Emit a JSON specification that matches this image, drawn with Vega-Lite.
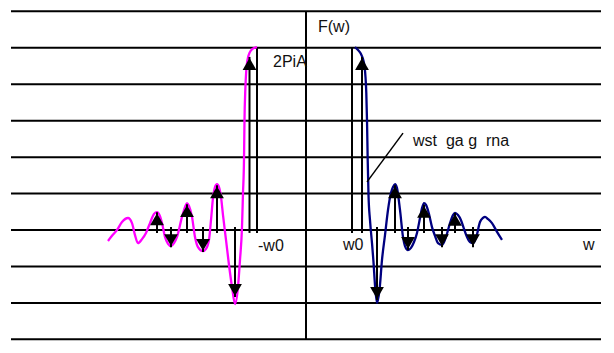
{
  "$schema": "https://vega.github.io/schema/vega-lite/v6.json",
  "width": 614,
  "height": 353,
  "autosize": {"type": "fit", "contains": "padding"},
  "padding": 0,
  "background": "white",
  "config": {"view": {"stroke": null}, "text": {"font": "Liberation Sans", "fontSize": 16, "color": "#111"}},
  "datasets": {
    "grid": [
      {"F": -3, "w": -29.5, "w2": 29.5}, {"F": -2, "w": -29.5, "w2": 29.5}, {"F": -1, "w": -29.5, "w2": 29.5},
      {"F": 0, "w": -29.5, "w2": 29.5}, {"F": 1, "w": -29.5, "w2": 29.5}, {"F": 2, "w": -29.5, "w2": 29.5},
      {"F": 3, "w": -29.5, "w2": 29.5}, {"F": 4, "w": -29.5, "w2": 29.5}, {"F": 5, "w": -29.5, "w2": 29.5},
      {"F": 6, "w": -29.5, "w2": 29.5}
    ],
    "vlines": [
      {"w": 0, "F": -3, "F2": 6},
      {"w": -4.9, "F": -0.08, "F2": 5.02},
      {"w": 4.6, "F": -0.08, "F2": 5.02}
    ],
    "curves": [
      {"side": "neg", "w": -19.8, "F": -0.30}, {"side": "neg", "w": -19.4, "F": -0.16}, {"side": "neg", "w": -18.9, "F": 0.00},
      {"side": "neg", "w": -18.4, "F": 0.22}, {"side": "neg", "w": -17.8, "F": 0.33}, {"side": "neg", "w": -17.4, "F": 0.19},
      {"side": "neg", "w": -17.1, "F": -0.14}, {"side": "neg", "w": -16.8, "F": -0.36}, {"side": "neg", "w": -16.4, "F": -0.25},
      {"side": "neg", "w": -16.0, "F": -0.08}, {"side": "neg", "w": -15.6, "F": 0.19}, {"side": "neg", "w": -15.2, "F": 0.44},
      {"side": "neg", "w": -14.9, "F": 0.49}, {"side": "neg", "w": -14.6, "F": 0.38}, {"side": "neg", "w": -14.4, "F": 0.19},
      {"side": "neg", "w": -14.1, "F": -0.19}, {"side": "neg", "w": -13.8, "F": -0.38}, {"side": "neg", "w": -13.5, "F": -0.44},
      {"side": "neg", "w": -13.2, "F": -0.36}, {"side": "neg", "w": -12.9, "F": -0.19}, {"side": "neg", "w": -12.4, "F": 0.36},
      {"side": "neg", "w": -12.1, "F": 0.63}, {"side": "neg", "w": -11.9, "F": 0.74}, {"side": "neg", "w": -11.7, "F": 0.66},
      {"side": "neg", "w": -11.4, "F": 0.36}, {"side": "neg", "w": -11.1, "F": -0.19}, {"side": "neg", "w": -10.8, "F": -0.47},
      {"side": "neg", "w": -10.3, "F": -0.58}, {"side": "neg", "w": -10.0, "F": -0.52}, {"side": "neg", "w": -9.7, "F": -0.27},
      {"side": "neg", "w": -9.5, "F": 0.27}, {"side": "neg", "w": -9.3, "F": 0.88}, {"side": "neg", "w": -9.1, "F": 1.18},
      {"side": "neg", "w": -8.9, "F": 1.26}, {"side": "neg", "w": -8.7, "F": 1.18}, {"side": "neg", "w": -8.5, "F": 0.91},
      {"side": "neg", "w": -8.3, "F": 0.41}, {"side": "neg", "w": -8.0, "F": -0.27}, {"side": "neg", "w": -7.7, "F": -0.96},
      {"side": "neg", "w": -7.4, "F": -1.56}, {"side": "neg", "w": -7.1, "F": -2.03}, {"side": "neg", "w": -6.8, "F": -1.56},
      {"side": "neg", "w": -6.6, "F": -0.82}, {"side": "neg", "w": -6.4, "F": 0.08}, {"side": "neg", "w": -6.3, "F": 1.02},
      {"side": "neg", "w": -6.2, "F": 1.92}, {"side": "neg", "w": -6.15, "F": 3.02}, {"side": "neg", "w": -6.07, "F": 3.84},
      {"side": "neg", "w": -5.97, "F": 4.39}, {"side": "neg", "w": -5.85, "F": 4.67}, {"side": "neg", "w": -5.65, "F": 4.86},
      {"side": "neg", "w": -5.35, "F": 4.97}, {"side": "neg", "w": -4.9, "F": 5.02},
      {"side": "pos", "w": 4.9, "F": 5.02}, {"side": "pos", "w": 5.2, "F": 4.94}, {"side": "pos", "w": 5.5, "F": 4.83},
      {"side": "pos", "w": 5.7, "F": 4.69}, {"side": "pos", "w": 5.85, "F": 4.50}, {"side": "pos", "w": 5.95, "F": 4.20},
      {"side": "pos", "w": 6.03, "F": 3.76}, {"side": "pos", "w": 6.1, "F": 3.02}, {"side": "pos", "w": 6.17, "F": 1.92},
      {"side": "pos", "w": 6.25, "F": 0.96}, {"side": "pos", "w": 6.4, "F": 0.27}, {"side": "pos", "w": 6.6, "F": -0.36},
      {"side": "pos", "w": 6.75, "F": -0.88}, {"side": "pos", "w": 6.9, "F": -1.51}, {"side": "pos", "w": 7.1, "F": -2.00},
      {"side": "pos", "w": 7.35, "F": -1.65}, {"side": "pos", "w": 7.6, "F": -0.82}, {"side": "pos", "w": 7.9, "F": -0.14},
      {"side": "pos", "w": 8.2, "F": 0.55}, {"side": "pos", "w": 8.5, "F": 1.02}, {"side": "pos", "w": 8.7, "F": 1.18},
      {"side": "pos", "w": 8.9, "F": 1.26}, {"side": "pos", "w": 9.1, "F": 1.15}, {"side": "pos", "w": 9.4, "F": 0.55},
      {"side": "pos", "w": 9.7, "F": -0.19}, {"side": "pos", "w": 9.9, "F": -0.44}, {"side": "pos", "w": 10.2, "F": -0.55},
      {"side": "pos", "w": 10.5, "F": -0.49}, {"side": "pos", "w": 10.8, "F": -0.33}, {"side": "pos", "w": 11.1, "F": -0.08},
      {"side": "pos", "w": 11.4, "F": 0.33}, {"side": "pos", "w": 11.6, "F": 0.60}, {"side": "pos", "w": 11.8, "F": 0.74},
      {"side": "pos", "w": 12.0, "F": 0.69}, {"side": "pos", "w": 12.3, "F": 0.44}, {"side": "pos", "w": 12.6, "F": 0.08},
      {"side": "pos", "w": 12.9, "F": -0.16}, {"side": "pos", "w": 13.2, "F": -0.36}, {"side": "pos", "w": 13.6, "F": -0.41},
      {"side": "pos", "w": 14.0, "F": -0.19}, {"side": "pos", "w": 14.4, "F": 0.19}, {"side": "pos", "w": 14.7, "F": 0.41},
      {"side": "pos", "w": 14.9, "F": 0.47}, {"side": "pos", "w": 15.2, "F": 0.41}, {"side": "pos", "w": 15.5, "F": 0.27},
      {"side": "pos", "w": 15.8, "F": 0.03}, {"side": "pos", "w": 16.1, "F": -0.19}, {"side": "pos", "w": 16.4, "F": -0.33},
      {"side": "pos", "w": 16.7, "F": -0.36}, {"side": "pos", "w": 17.0, "F": -0.22}, {"side": "pos", "w": 17.4, "F": 0.22},
      {"side": "pos", "w": 17.7, "F": 0.33}, {"side": "pos", "w": 17.9, "F": 0.36}, {"side": "pos", "w": 18.2, "F": 0.30},
      {"side": "pos", "w": 18.6, "F": 0.19}, {"side": "pos", "w": 19.1, "F": -0.05}, {"side": "pos", "w": 19.6, "F": -0.27}
    ],
    "arrows": [
      {"w": -14.9, "F": -0.08, "tip": 0.49, "dir": "up"},
      {"w": -11.9, "F": -0.08, "tip": 0.71, "dir": "up"},
      {"w": -8.9, "F": -0.08, "tip": 1.23, "dir": "up"},
      {"w": -5.65, "F": -0.08, "tip": 4.75, "dir": "up"},
      {"w": -13.5, "F": 0.08, "tip": -0.47, "dir": "down"},
      {"w": -10.3, "F": 0.08, "tip": -0.60, "dir": "down"},
      {"w": -7.1, "F": 0.08, "tip": -1.84, "dir": "down"},
      {"w": 5.6, "F": -0.08, "tip": 4.75, "dir": "up"},
      {"w": 8.9, "F": -0.08, "tip": 1.23, "dir": "up"},
      {"w": 11.8, "F": -0.08, "tip": 0.69, "dir": "up"},
      {"w": 14.9, "F": -0.08, "tip": 0.47, "dir": "up"},
      {"w": 7.1, "F": 0.08, "tip": -1.92, "dir": "down"},
      {"w": 10.2, "F": 0.08, "tip": -0.55, "dir": "down"},
      {"w": 13.6, "F": 0.08, "tip": -0.47, "dir": "down"},
      {"w": 16.7, "F": 0.08, "tip": -0.47, "dir": "down"}
    ],
    "pointer": [{"w": 6.1, "F": 1.32, "w2": 9.7, "F2": 2.66}],
    "labels": [
      {"w": 1.2, "F": 5.57, "label": "F(w)"},
      {"w": -3.3, "F": 4.61, "label": "2PiA"},
      {"w": -4.8, "F": -0.44, "label": "-w0"},
      {"w": 3.7, "F": -0.41, "label": "w0"},
      {"w": 27.7, "F": -0.41, "label": "w"},
      {"w": 10.7, "F": 2.44, "label": "wst\u00a0 ga g\u00a0 rna"}
    ]
  },
  "encoding": {
    "x": {"field": "w", "type": "quantitative", "scale": {"domain": [-30.6, 30.8], "nice": false, "zero": false}, "axis": null},
    "y": {"field": "F", "type": "quantitative", "scale": {"domain": [-3.375, 6.312], "nice": false, "zero": false}, "axis": null}
  },
  "layer": [
    {
      "data": {"name": "grid"},
      "mark": {"type": "rule", "color": "black", "strokeWidth": 2},
      "encoding": {"x2": {"field": "w2"}}
    },
    {
      "data": {"name": "vlines"},
      "mark": {"type": "rule", "color": "black", "strokeWidth": 2},
      "encoding": {"y2": {"field": "F2"}}
    },
    {
      "data": {"name": "curves"},
      "mark": {"type": "line", "interpolate": "monotone", "strokeWidth": 2.3},
      "encoding": {
        "color": {"field": "side", "type": "nominal", "scale": {"domain": ["neg", "pos"], "range": ["#ff00ff", "#000080"]}, "legend": null},
        "order": {"field": "w", "type": "quantitative"}
      }
    },
    {
      "data": {"name": "arrows"},
      "mark": {"type": "rule", "color": "black", "strokeWidth": 2},
      "encoding": {"y2": {"field": "tip"}}
    },
    {
      "data": {"name": "arrows"},
      "transform": [{"filter": "datum.dir === 'up'"}],
      "mark": {"type": "point", "shape": "triangle-up", "size": 190, "filled": true, "color": "black", "opacity": 1, "yOffset": 7},
      "encoding": {"y": {"field": "tip", "type": "quantitative"}}
    },
    {
      "data": {"name": "arrows"},
      "transform": [{"filter": "datum.dir === 'down'"}],
      "mark": {"type": "point", "shape": "triangle-down", "size": 190, "filled": true, "color": "black", "opacity": 1, "yOffset": -7},
      "encoding": {"y": {"field": "tip", "type": "quantitative"}}
    },
    {
      "data": {"name": "pointer"},
      "mark": {"type": "rule", "color": "black", "strokeWidth": 1.5},
      "encoding": {"x2": {"field": "w2"}, "y2": {"field": "F2"}}
    },
    {
      "data": {"name": "labels"},
      "mark": {"type": "text", "align": "left", "baseline": "middle"},
      "encoding": {"text": {"field": "label", "type": "nominal"}}
    }
  ]
}
